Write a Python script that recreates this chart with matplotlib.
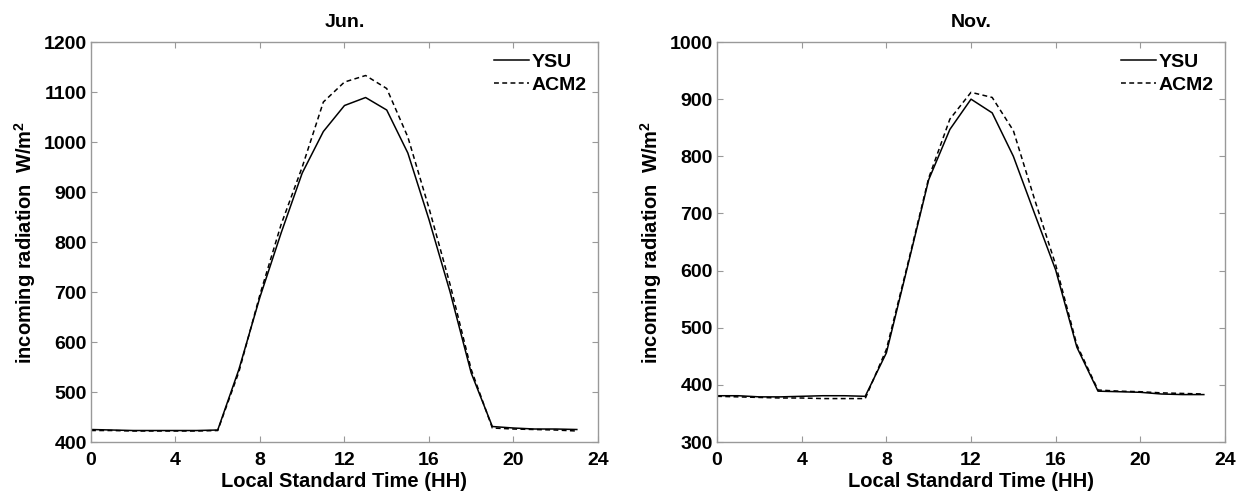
import numpy as np
import matplotlib
matplotlib.use('Agg')
import matplotlib.pyplot as plt

## Style
plt.rcParams['font.family'] = ['Liberation Sans', 'DejaVu Sans']
plt.rcParams['font.weight'] = 'bold'
plt.rcParams['mathtext.default'] = 'regular'
FRAME_GRAY = '#999999'
FONT_SIZE = 14

################################################################################
## Data
HOURS = list(range(24))

JUN_YSU = [425, 424, 423, 423, 423, 423, 424, 545, 690, 818, 938, 1021,
           1073, 1089, 1064, 978, 845, 700, 538, 431, 428, 426, 426, 425]
JUN_ACM2 = [423, 423, 422, 422, 422, 422, 423, 540, 695, 835, 950, 1080,
            1120, 1133, 1107, 1010, 868, 715, 545, 428, 426, 425, 424, 422]

NOV_YSU = [381, 381, 379, 379, 380, 381, 381, 380, 456, 607, 759, 847,
           900, 876, 800, 700, 601, 466, 389, 388, 387, 384, 383, 383]
NOV_ACM2 = [380, 379, 378, 377, 377, 376, 376, 376, 462, 610, 762, 865,
            912, 903, 845, 725, 610, 470, 391, 389, 388, 386, 385, 384]

PANELS = [
  dict(title='Jun.', ysu=JUN_YSU, acm2=JUN_ACM2, ylim=(400, 1200), yticks=range(400, 1201, 100)),
  dict(title='Nov.', ysu=NOV_YSU, acm2=NOV_ACM2, ylim=(300, 1000), yticks=range(300, 1001, 100)),
]
XTICKS = [0, 4, 8, 12, 16, 20, 24]

################################################################################
## Plot
fig = plt.figure(figsize=(12.38, 4.92), dpi=100)
ax_pos = [[0.0735, 0.1016, 0.4095, 0.813], [0.5792, 0.1016, 0.4103, 0.813]]

for pos, p in zip(ax_pos, PANELS):
  ax = fig.add_axes(pos)
  ax.plot(HOURS, p['ysu'], color='black', lw=1.1, ls='-', label='YSU')
  ax.plot(HOURS, p['acm2'], color='black', lw=1.1, ls=(0, (3.2, 2.2)), label='ACM2')
  ax.set_xlim(0, 24)
  ax.set_ylim(*p['ylim'])
  ax.set_xticks(XTICKS)
  ax.set_yticks(list(p['yticks']))
  ax.tick_params(direction='in', top=True, right=True, length=4.5, color=FRAME_GRAY,
                 labelsize=FONT_SIZE)
  ax.tick_params(axis='y', pad=3)
  ax.tick_params(axis='x', pad=7)
  for lab in ax.get_xticklabels() + ax.get_yticklabels():
    lab.set_fontweight('bold')
  for sp in ax.spines.values():
    sp.set_color(FRAME_GRAY)
    sp.set_linewidth(1.0)
  ax.set_title(p['title'], fontsize=FONT_SIZE, weight='bold', pad=11)
  ax.set_xlabel('Local Standard Time (HH)', fontsize=FONT_SIZE + 0.5, weight='bold', labelpad=2)
  ax.set_ylabel('incoming radiation  W/m$^2$', fontsize=FONT_SIZE + 0.5, weight='bold', labelpad=4)
  leg = ax.legend(loc='upper right', frameon=False, fontsize=FONT_SIZE, handlelength=1.8,
                  handletextpad=0.1, borderaxespad=0.4, borderpad=0.2, labelspacing=0.25)
  for t in leg.get_texts():
    t.set_fontweight('bold')

fig.savefig('out.png', dpi=100)
